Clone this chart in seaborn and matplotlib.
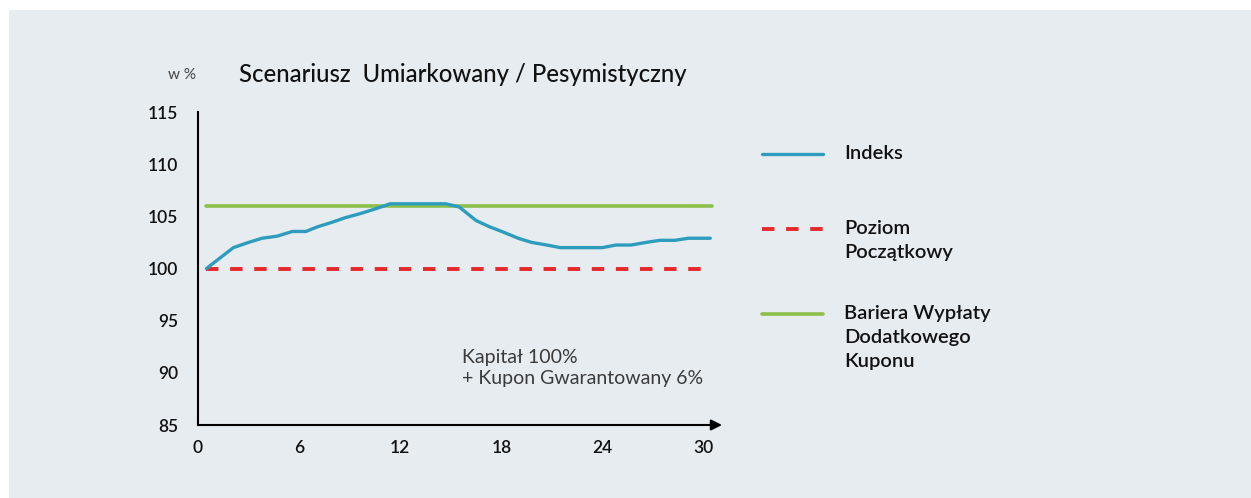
import matplotlib
matplotlib.use("Agg")
import matplotlib.pyplot as plt
from matplotlib.lines import Line2D
from matplotlib.patches import Rectangle
import seaborn as sns

# index path (x in months, y in %)
index_x = [0.5, 2.1, 3.0, 3.8, 4.7, 5.6, 6.4, 7.1, 7.9, 8.7, 9.6, 10.5, 11.4, 12.2,
           13.0, 13.8, 14.7, 15.5, 16.5, 17.3, 18.1, 19.0, 19.8, 20.7, 21.5, 22.3,
           23.1, 24.0, 24.8, 25.7, 26.6, 27.4, 28.3, 29.1, 30.4]
index_y = [100.0, 102.0, 102.5, 102.9, 103.1, 103.55, 103.55, 104.0, 104.4, 104.85,
           105.25, 105.7, 106.2, 106.2, 106.2, 106.2, 106.2, 105.9, 104.6, 104.0,
           103.5, 102.9, 102.5, 102.25, 102.0, 102.0, 102.0, 102.0, 102.25, 102.25,
           102.5, 102.7, 102.7, 102.9, 102.9]

level_x = [0.5, 30.5]
start_level = [100, 100]
barrier_level = [106, 106]

x_ticks = [0, 6, 12, 18, 24, 30]
y_ticks = [85, 90, 95, 100, 105, 110, 115]

legend_labels = ["Indeks", "Poziom\nPoczątkowy", "Bariera Wypłaty\nDodatkowego\nKuponu"]
title = "Scenariusz  Umiarkowany / Pesymistyczny"
note = "Kapitał 100%\n+ Kupon Gwarantowany 6%"

blue = "#2E9DBD"
red = "#E8282B"
green = "#8CC04B"
bg = "#E7ECF0"

sns.set_style("white")
plt.rcParams["font.family"] = ["Lato", "DejaVu Sans"]

W, H = 1251, 498
fig = plt.figure(figsize=(W / 100, H / 100), dpi=100)
fig.patch.set_facecolor("white")
fig.patches.append(Rectangle((9 / W, 0), 1, 1 - 10 / H, transform=fig.transFigure,
                             facecolor=bg, edgecolor="none", zorder=-10))

px_per_unit = 16.85
ax = fig.add_axes([198 / W, 1 - 425 / H, 31 * px_per_unit / W, (425 - 112) / H])
ax.patch.set_alpha(0)

sns.lineplot(x=level_x, y=barrier_level, ax=ax, color=green, linewidth=2.6)
sns.lineplot(x=level_x, y=start_level, ax=ax, color=red, linewidth=2.8,
             linestyle=(0, (3.2, 3.0)))
sns.lineplot(x=index_x, y=index_y, ax=ax, color=blue, linewidth=2.4)

ax.set_xlim(0, 31)
ax.set_ylim(85, 115)
ax.set_xticks(x_ticks)
ax.set_yticks(y_ticks)
ax.set_xticklabels([str(t) for t in x_ticks])
ax.set_yticklabels([str(t) for t in y_ticks])
ax.tick_params(axis="both", direction="out", length=5, width=1.3, color="black",
               labelsize=12.5, labelcolor="#111111")
ax.tick_params(axis="y", pad=9)
ax.tick_params(axis="x", pad=6)
for lab in ax.get_xticklabels() + ax.get_yticklabels():
    lab.set_fontweight("semibold")

for s in ["top", "right", "bottom"]:
    ax.spines[s].set_visible(False)
ax.spines["left"].set_linewidth(1.5)
ax.spines["left"].set_color("black")
ax.annotate("", xy=(31.1, 85), xytext=(0, 85), xycoords="data",
            arrowprops=dict(arrowstyle="-|>", color="black", lw=1.5,
                            mutation_scale=16, shrinkA=0, shrinkB=0),
            annotation_clip=False)

ax.set_xlabel("")
ax.set_ylabel("")

fig.text(239 / W, 1 - 75 / H, title, fontsize=17.2, color="#111111",
         fontweight="medium", va="center", ha="left")
fig.text(168 / W, 1 - 75 / H, "w %", fontsize=11, color="#444444",
         va="center", ha="left")
fig.text(462 / W, 1 - 368 / H, note, fontsize=14, color="#3a3a3a",
         fontweight="normal", va="center", ha="left", linespacing=1.25)

# legend drawn by hand to keep the wide spacing of the original
leg_y = [154, 229, 314]
leg_styles = [dict(color=blue, lw=2.4, ls="-"),
              dict(color=red, lw=2.8, ls=(0, (3.2, 3.0))),
              dict(color=green, lw=2.6, ls="-")]
for y, style, lab in zip(leg_y, leg_styles, legend_labels):
    fig.add_artist(Line2D([762 / W, 823 / W], [1 - y / H, 1 - y / H],
                          transform=fig.transFigure, **style))
    fig.text(844 / W, 1 - (y - 9) / H, lab, fontsize=14.5, color="#111111",
             fontweight="semibold", va="top", ha="left", linespacing=1.5)

fig.savefig("out.png", dpi=100)
